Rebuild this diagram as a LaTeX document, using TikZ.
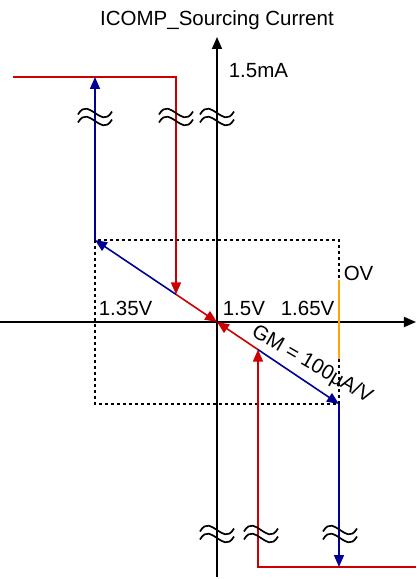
\documentclass[tikz,border=0pt]{standalone}
\usepackage{fontspec}
\setmainfont{Liberation Sans}
\usetikzlibrary{arrows.meta}

\definecolor{cred}{RGB}{204,0,0}
\definecolor{cblue}{RGB}{0,0,150}
\definecolor{corange}{RGB}{255,165,0}

\tikzset{
    lbl/.style={anchor=base west, inner sep=0pt},
    brk/.style={black, line width=1.7pt},
    box/.style={black, line width=1.6pt, dash pattern=on 3pt off 3pt}
}

\begin{document}
\begin{tikzpicture}[x=1pt, y=1pt, line width=1.6pt,
    font=\fontsize{20.5}{24}\selectfont,
    >={Triangle[length=12pt,width=10pt]}]

    \useasboundingbox (-217,-257) rectangle (199,322);

    % Points
    \coordinate (O) at (0,0);
    \coordinate (A) at (-122,82);
    \coordinate (B) at (122,-82);
    \coordinate (P) at (-41,27.6);
    \coordinate (Q) at (41,-27.6);
    \coordinate (rtop) at (-204,245);
    \coordinate (rcor) at (-41,245);
    \coordinate (btop) at (-122,245);
    \coordinate (rbot) at (199,-245);
    \coordinate (rcor2) at (41,-245);
    \coordinate (bbot) at (122,-245);

    % Axes
    \draw[line width=1.8pt, ->] (-217,0) -- (199,0);
    \draw[line width=1.8pt, ->] (0,-255) -- (0,285);

    % Window
    \draw[box] (A) rectangle (B);
    \draw[corange] (122,42) -- (122,-37);

    % Curves
    \draw[cred, ->] (rtop) -- (rcor) -- (P);
    \draw[cred, ->] (rbot) -- (rcor2) -- (Q);
    \draw[cblue, ->] (A) -- (btop);
    \draw[cblue, ->] (B) -- (bbot);
    \draw[cblue, ->] (P) -- (A);
    \draw[cblue, ->] (Q) -- (B);
    \draw[cred, ->] (P) -- (O);
    \draw[cred, ->] (Q) -- (O);

    % Breaks
    \foreach \bx/\by in {-122/205, -41/205, 0/205, 0/-212, 44/-212, 123/-212}
        \foreach \dy in {4,-4}
            \draw[brk, shift={(\bx,\by+\dy)}] (-17,-1.5) .. controls (-11,9) and (-5,3) .. (0,0) .. controls (5,-3) and (11,-9) .. (17,1.5);

    % Text
    \node[anchor=base, inner sep=0pt] (title) at (0,296) {ICOMP\_Sourcing Current};
    \node[lbl] (imax) at (11,244) {1.5mA};
    \node[lbl] (vlo) at (-119,7) {1.35V};
    \node[lbl] (vmid) at (5,7) {1.5V};
    \node[lbl] (vhi) at (63,7) {1.65V};
    \node[lbl] (ov) at (126,42) {OV};
    \node[rotate=-30, inner sep=0pt] (gm) at (95,-43) {GM = 100µA/V};

\end{tikzpicture}
\end{document}
